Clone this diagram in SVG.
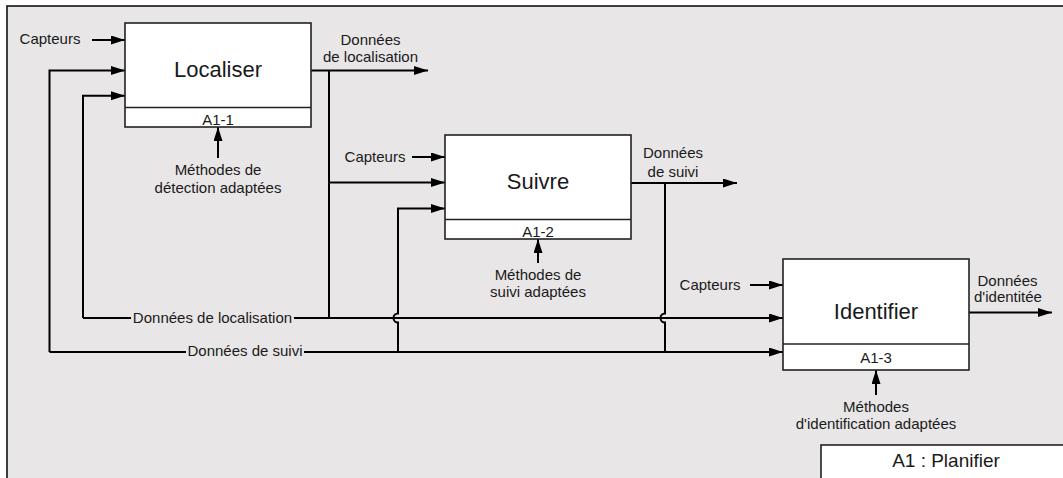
<svg xmlns="http://www.w3.org/2000/svg" width="1063" height="478" viewBox="0 0 1063 478">
<defs>
<marker id="ah" markerUnits="userSpaceOnUse" markerWidth="15" markerHeight="10" refX="14" refY="4.5" orient="auto">
<path d="M0,0 L14,4.5 L0,9 z" fill="#000"/>
</marker>
<style>
.t{font-family:"Liberation Sans",Arial,sans-serif;font-size:15px;fill:#1a1a1a;text-anchor:middle}
.big{font-size:22px}
.mid{font-size:19px}
.box{fill:#fff;stroke:#222;stroke-width:1.6}
.ln{fill:none;stroke:#000;stroke-width:2}
.ar{fill:none;stroke:#000;stroke-width:2;marker-end:url(#ah)}
</style>
</defs>
<rect x="7" y="6" width="1070" height="490" fill="#e8e6e7" stroke="#111" stroke-width="1.6"/>

<g id="connectors">
<!-- inputs box1 -->
<path class="ar" d="M92,40 H125"/>
<path class="ar" d="M49.5,352 V70.5 H125"/>
<path class="ar" d="M83,318 V95.7 H125"/>
<!-- output box1 -->
<path class="ar" d="M311,70.5 H428"/>
<path class="ln" d="M329,70.5 V318"/>
<path class="ar" d="M329,182.5 H445"/>
<!-- inputs box2 -->
<path class="ar" d="M412,157 H445"/>
<path class="ar" d="M398,352 V322.5 A4.5,4.5 0 0 1 398,313.5 V208.5 H445"/>
<!-- output box2 -->
<path class="ar" d="M631,183 H737"/>
<path class="ln" d="M665,183 V313.5 A4.5,4.5 0 0 0 665,322.5 V352"/>
<!-- localisation line -->
<path class="ln" d="M83,318 H131"/>
<path class="ar" d="M294,318 H783"/>
<!-- suivi line -->
<path class="ln" d="M49.5,352 H186"/>
<path class="ar" d="M304,352 H783"/>
<!-- inputs box3 -->
<path class="ar" d="M750,285 H783"/>
<!-- output box3 -->
<path class="ar" d="M969,312.5 H1052"/>
<!-- mechanisms -->
<path class="ar" d="M218,158 V127"/>
<path class="ar" d="M538,263 V239"/>
<path class="ar" d="M876,395 V370"/>
</g>

<g id="node-localiser">
<rect class="box" x="125" y="23" width="186" height="104"/>
<line x1="125" y1="107.5" x2="311" y2="107.5" stroke="#222" stroke-width="1.6"/>
<text class="t big" x="218" y="77">Localiser</text>
<text class="t" x="218" y="125">A1-1</text>
</g>

<g id="node-suivre">
<rect class="box" x="445" y="135" width="186" height="104"/>
<line x1="445" y1="219.5" x2="631" y2="219.5" stroke="#222" stroke-width="1.6"/>
<text class="t big" x="538" y="189">Suivre</text>
<text class="t" x="538" y="237">A1-2</text>
</g>

<g id="node-identifier">
<rect class="box" x="783" y="259" width="186" height="111"/>
<line x1="783" y1="344" x2="969" y2="344" stroke="#222" stroke-width="1.6"/>
<text class="t big" x="876" y="319">Identifier</text>
<text class="t" x="876" y="363">A1-3</text>
</g>

<g id="node-title">
<rect class="box" x="821" y="445" width="260" height="50"/>
<text class="t mid" x="946" y="467">A1 : Planifier</text>
</g>

<g id="labels">
<text class="t" x="50" y="44">Capteurs</text>
<text class="t" x="370.5" y="45">Données</text>
<text class="t" x="370.5" y="62">de localisation</text>
<text class="t" x="218" y="175">Méthodes de</text>
<text class="t" x="218" y="193">détection adaptées</text>
<text class="t" x="375" y="162">Capteurs</text>
<text class="t" x="673" y="158">Données</text>
<text class="t" x="673" y="177">de suivi</text>
<text class="t" x="538" y="280">Méthodes de</text>
<text class="t" x="538" y="297">suivi adaptées</text>
<text class="t" x="710" y="290">Capteurs</text>
<text class="t" x="1007.5" y="286">Données</text>
<text class="t" x="1008" y="302">d'identitée</text>
<text class="t" x="876" y="412">Méthodes</text>
<text class="t" x="876" y="429">d'identification adaptées</text>
<text class="t" x="212.5" y="322.5">Données de localisation</text>
<text class="t" x="245" y="356">Données de suivi</text>
</g>
</svg>
